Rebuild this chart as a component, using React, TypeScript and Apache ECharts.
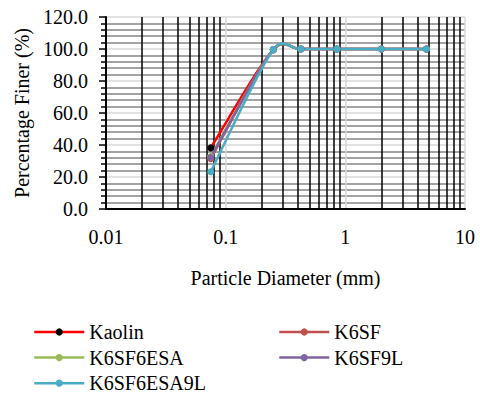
import React, { useEffect, useRef } from "react";
import * as echarts from "echarts";

// ---- data ----
const particleDiameters = [0.075, 0.25, 0.425, 0.85, 2.0, 4.75];
const kaolin = [38.2, 99.6, 100, 100, 100, 100];
const k6sf = [31.4, 99.6, 100, 100, 100, 100];
const k6sf6esa = [32.8, 99.6, 100, 100, 100, 100];
const k6sf9l = [32.2, 99.6, 100, 100, 100, 100];
const k6sf6esa9l = [23.3, 99.6, 100, 100, 100, 100];

const seriesNames = ["Kaolin", "K6SF", "K6SF6ESA", "K6SF9L", "K6SF6ESA9L"];
const seriesValues = [kaolin, k6sf, k6sf6esa, k6sf9l, k6sf6esa9l];
const lineColors = ["#FF0000", "#C0504D", "#9BBB59", "#8064A2", "#4BACC6"];
const markerColors = ["#000000", "#C0504D", "#9BBB59", "#8064A2", "#4BACC6"];

const xTickLabels = ["0.01", "0.1", "1", "10"];
const xMinorGrid = [
  0.02, 0.03, 0.04, 0.05, 0.06, 0.07, 0.08, 0.09,
  0.2, 0.3, 0.4, 0.5, 0.6, 0.7, 0.8, 0.9,
  2, 3, 4, 5, 6, 7, 8, 9,
];

const FONT = "Liberation Serif";

// Excel-like smoothed curve through pixel points
function smoothCurve(pts: number[][]): number[][] {
  const n = pts.length;
  const tangents = pts.map((_, i) => {
    const a = pts[Math.max(0, i - 1)];
    const b = pts[Math.min(n - 1, i + 1)];
    return [(b[0] - a[0]) / 6, (b[1] - a[1]) / 6];
  });
  const out: number[][] = [pts[0]];
  for (let i = 0; i < n - 1; i++) {
    const p0 = pts[i];
    const p3 = pts[i + 1];
    const seg = Math.hypot(p3[0] - p0[0], p3[1] - p0[1]);
    const lim = (t: number[]) => {
      const l = Math.hypot(t[0], t[1]);
      const m = 0.6 * seg;
      return l > m ? [(t[0] * m) / l, (t[1] * m) / l] : t;
    };
    const t0 = lim(tangents[i]);
    const t1 = lim(tangents[i + 1]);
    const p1 = [p0[0] + t0[0], p0[1] + t0[1]];
    const p2 = [p3[0] - t1[0], p3[1] - t1[1]];
    const steps = 30;
    for (let k = 1; k <= steps; k++) {
      const t = k / steps;
      const u = 1 - t;
      out.push([
        u * u * u * p0[0] + 3 * u * u * t * p1[0] + 3 * u * t * t * p2[0] + t * t * t * p3[0],
        u * u * u * p0[1] + 3 * u * u * t * p1[1] + 3 * u * t * t * p2[1] + t * t * t * p3[1],
      ]);
    }
  }
  return out;
}

export default function App() {
  const ref = useRef<HTMLDivElement>(null);

  useEffect(() => {
    document.body.style.margin = "0";
    if (!ref.current) return;
    const chart = echarts.init(ref.current, null, { renderer: "svg" });

    const series: any[] = [
      {
        name: "minor-grid",
        type: "line",
        data: [],
        silent: true,
        markLine: {
          silent: true,
          z: 1,
          symbol: ["none", "none"],
          label: { show: false },
          lineStyle: { color: "#000000", width: 1.5, type: "solid" },
          emphasis: { disabled: true },
          data: xMinorGrid.map((v) => ({ xAxis: v })),
        },
      },
    ];

    seriesNames.forEach((name, si) => {
      const values = seriesValues[si];
      const pairs = particleDiameters.map((x, i) => [x, values[i]]);
      series.push({
        name: name + " curve",
        type: "custom",
        silent: true,
        clip: false,
        data: pairs,
        renderItem: (params: any, api: any) => {
          if (params.dataIndex !== 0) return null;
          const pts = pairs.map((p) => api.coord(p));
          return {
            type: "polyline",
            shape: { points: smoothCurve(pts) },
            style: {
              stroke: lineColors[si],
              lineWidth: 2.5,
              fill: "none",
              lineJoin: "round",
              lineCap: "round",
            },
          };
        },
      });
      series.push({
        name,
        type: "line",
        data: pairs,
        symbol: "circle",
        symbolSize: 7,
        showSymbol: true,
        lineStyle: { color: lineColors[si], width: 2.5, opacity: 0 },
        itemStyle: { color: markerColors[si] },
        emphasis: { disabled: true },
      });
    });

    const legendText = { fontFamily: FONT, fontSize: 20, color: "#000", lineHeight: 20 };
    const legendItem = (i: number) => ({
      name: seriesNames[i],
      lineStyle: { color: lineColors[i], width: 2.5, opacity: 1 },
      itemStyle: { color: markerColors[i] },
    });

    chart.setOption({
      animation: false,
      textStyle: { fontFamily: FONT },
      grid: { left: 106, right: 15, top: 17, bottom: 185, outerBoundsMode: "none" },
      xAxis: {
        type: "log",
        logBase: 10,
        min: 0.01,
        max: 10,
        name: "Particle Diameter (mm)",
        nameLocation: "middle",
        nameGap: 59,
        nameTextStyle: { fontFamily: FONT, fontSize: 20, color: "#000" },
        axisLine: { show: true, onZero: false, lineStyle: { color: "#000", width: 2 } },
        axisTick: { show: false },
        axisLabel: {
          fontFamily: FONT,
          fontSize: 20,
          color: "#000",
          margin: 18,
          formatter: (_v: number, idx: number) => xTickLabels[idx] ?? "",
        },
        splitLine: { show: true, lineStyle: { color: "#D9D9D9", width: 1.5 } },
        minorTick: { show: false },
        minorSplitLine: { show: false },
      },
      yAxis: {
        type: "value",
        min: 0,
        max: 120,
        interval: 20,
        name: "Percentage Finer (%)",
        nameLocation: "middle",
        nameGap: 68,
        nameTextStyle: { fontFamily: FONT, fontSize: 20, color: "#000" },
        axisLine: { show: true, lineStyle: { color: "#000", width: 2 } },
        axisTick: { show: true, length: 7, lineStyle: { color: "#000", width: 1.5 } },
        minorTick: { show: true, splitNumber: 5, length: 5, lineStyle: { color: "#000", width: 1.5 } },
        axisLabel: {
          fontFamily: FONT,
          fontSize: 20,
          color: "#000",
          margin: 18,
          formatter: (v: number) => v.toFixed(1),
        },
        splitLine: { show: true, lineStyle: { color: "#D9D9D9", width: 1.5 } },
        minorSplitLine: { show: true, lineStyle: { color: "#858585", width: 1.5 } },
      },
      legend: [
        {
          left: 33,
          top: 322,
          orient: "vertical",
          padding: 0,
          itemWidth: 50,
          itemHeight: 9,
          itemGap: 5.6,
          selectedMode: false,
          textStyle: legendText,
          data: [legendItem(0), legendItem(2), legendItem(4)],
        },
        {
          left: 278,
          top: 322,
          orient: "vertical",
          padding: 0,
          itemWidth: 50,
          itemHeight: 9,
          itemGap: 5.6,
          selectedMode: false,
          textStyle: legendText,
          data: [legendItem(1), legendItem(3)],
        },
      ],
      series,
    });

    return () => chart.dispose();
  }, []);

  return <div ref={ref} style={{ width: 480, height: 394 }} />;
}
